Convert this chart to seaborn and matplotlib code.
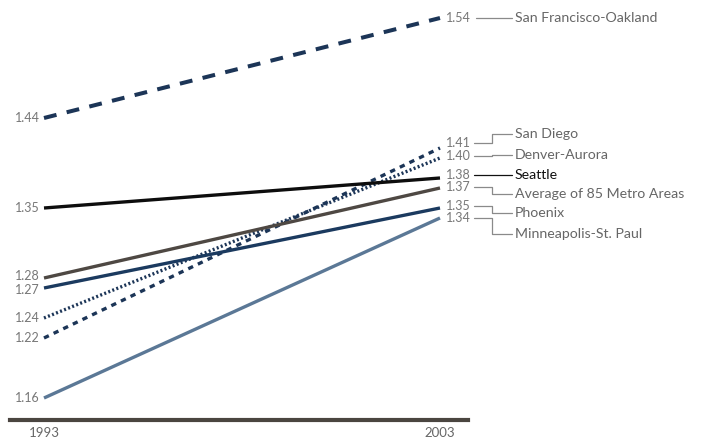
import pandas as pd
import matplotlib.pyplot as plt
import seaborn as sns

# =========================
# DATA
# =========================
years = [1993, 2003]
metros = ["San Francisco-Oakland", "San Diego", "Denver-Aurora", "Seattle",
          "Average of 85 Metro Areas", "Phoenix", "Minneapolis-St. Paul"]
start_values = [1.44, 1.22, 1.24, 1.35, 1.28, 1.27, 1.16]
end_values = [1.54, 1.41, 1.40, 1.38, 1.37, 1.35, 1.34]

# label positions (y in data units) for the right-hand text
value_label_y = [1.540, 1.415, 1.402, 1.383, 1.371, 1.352, 1.340]
name_label_y = [1.540, 1.424, 1.403, 1.383, 1.364, 1.345, 1.324]

# =========================
# STYLE
# =========================
sns.set_theme(style="white")
plt.rcParams['font.family'] = ['Lato', 'DejaVu Sans']

colors = {
    "San Francisco-Oakland": "#1c3557",
    "San Diego": "#1c3557",
    "Denver-Aurora": "#1c3557",
    "Seattle": "#0d0d0d",
    "Average of 85 Metro Areas": "#4e4843",
    "Phoenix": "#1b3a5f",
    "Minneapolis-St. Paul": "#5b7896",
}
dashes = {
    "San Francisco-Oakland": (3.2, 2.6),
    "San Diego": (1.6, 1.6),
    "Denver-Aurora": (0.6, 0.7),
    "Seattle": "",
    "Average of 85 Metro Areas": "",
    "Phoenix": "",
    "Minneapolis-St. Paul": "",
}
widths = {m: 2.4 for m in metros}
widths["San Francisco-Oakland"] = 2.9

df = pd.DataFrame({
    "metro": [m for m in metros for _ in years],
    "year": years * len(metros),
    "value": [v for s, e in zip(start_values, end_values) for v in (s, e)],
})

# =========================
# FIGURE
# =========================
fig = plt.figure(figsize=(7.02, 4.4), dpi=100)
ax = fig.add_axes([10 / 702, 20 / 440, 458 / 702, 420 / 440])

x0 = 1993 - 34 / 39.6
x1 = 1993 + 424 / 39.6
ax.set_xlim(x0, x1)
ax.set_ylim(1.138, 1.558)


def px_x(px):
    # figure pixel column -> data x
    return x0 + (px - 10) / 39.6


for m in metros:
    sub = df[df["metro"] == m]
    sns.lineplot(data=sub, x="year", y="value", ax=ax, color=colors[m],
                 linewidth=widths[m], dashes=False, legend=False)
    line = ax.get_lines()[-1]
    if dashes[m]:
        line.set_dashes(dashes[m])
    line.set_solid_capstyle('butt')
    line.set_dash_capstyle('butt')

# left value labels (1.28 / 1.27 sit very close, nudge them apart)
nudge = {1.28: 2, 1.27: -2}
for v in sorted(set(start_values)):
    ax.annotate(f"{v:.2f}", xy=(1993, v), xytext=(-4, nudge.get(v, 0)),
                textcoords='offset pixels', ha='right', va='center',
                fontsize=9, color='#777777')

# right value labels, connectors and names
for m, v, vy, ny in zip(metros, end_values, value_label_y, name_label_y):
    ax.annotate(f"{v:.2f}", xy=(2003, vy), xytext=(6, 0),
                textcoords='offset pixels', ha='left', va='center',
                fontsize=9, color='#777777', annotation_clip=False)
    line_color = '#111111' if m == "Seattle" else '#8a8a8a'
    if m == "San Francisco-Oakland":
        xs = [px_x(476), px_x(512)]
        ys = [vy, ny]
    else:
        xs = [px_x(474), px_x(492), px_x(492), px_x(512)]
        ys = [vy, vy, ny, ny]
    ax.plot(xs, ys, color=line_color, linewidth=0.9, clip_on=False)
    ax.text(px_x(515), ny, m, ha='left', va='center', fontsize=10.2,
            color='#111111' if m == "Seattle" else '#666666')

# =========================
# AXES
# =========================
for side in ['top', 'left', 'right']:
    ax.spines[side].set_visible(False)
ax.spines['bottom'].set_color('#4a4540')
ax.spines['bottom'].set_linewidth(3)
ax.set_xticks(years)
ax.set_xticklabels([str(y) for y in years], fontsize=9.5, color='#666666')
ax.tick_params(axis='x', length=0, pad=5)
ax.set_yticks([])
ax.set_xlabel("")
ax.set_ylabel("")

fig.savefig("out.png", dpi=100)
